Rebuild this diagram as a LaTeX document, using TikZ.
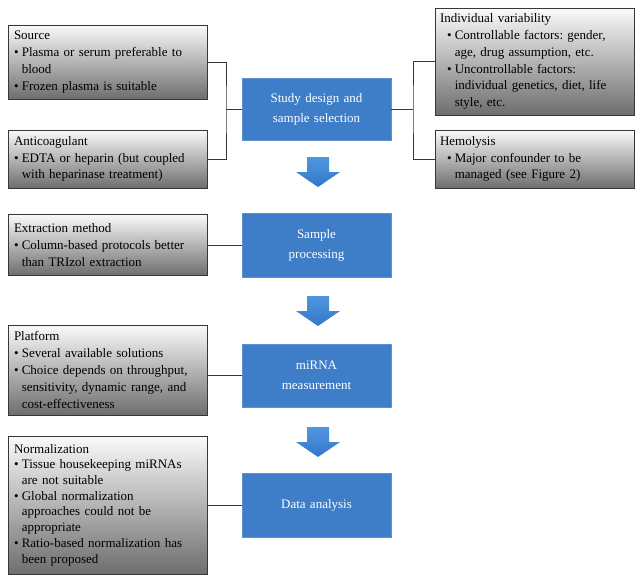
\documentclass[tikz,border=0pt]{standalone}
\usepackage{fontspec}
\setmainfont{Liberation Serif}
\usetikzlibrary{positioning}
\definecolor{boxblue}{RGB}{62,125,200}
\definecolor{boxedge}{RGB}{95,145,210}
\definecolor{arrowhi}{RGB}{80,150,222}
\definecolor{arrowlo}{RGB}{50,120,200}
\definecolor{linegray}{RGB}{55,55,55}
\newcommand{\bul}{\makebox[0.6em][l]{\textbullet}}
\newcommand{\cont}{\hspace*{0.6em}}
\newcommand{\rbul}{\hspace*{7pt}\bul}
\newcommand{\rcont}{\hspace*{7pt}\cont}

\begin{document}
\frenchspacing
\begin{tikzpicture}[x=1pt, y=-1pt,
  gbox/.style={draw=linegray, line width=0.9pt, rectangle, top color=black!2, bottom color=black!57,
    minimum width=199pt, text width=187pt, inner xsep=6pt, align=left,
    font=\fontsize{13}{16.8}\selectfont},
  bbox/.style={draw=boxedge, line width=0.8pt, rectangle, fill=boxblue, text=white,
    minimum width=149pt, text width=140pt, align=center,
    font=\fontsize{13}{20}\selectfont},
  conn/.style={draw=linegray, line width=0.9pt}]
  \useasboundingbox (0,0) rectangle (642,583);

  \node[gbox, minimum height=74pt] (src) at (107.5,62) {Source\\
    \bul Plasma or serum preferable to\\ \cont blood\\
    \bul Frozen plasma is suitable};
  \node[gbox, minimum height=58pt] (anti) at (107.5,159) {Anticoagulant\\
    \bul EDTA or heparin (but coupled\\ \cont with heparinase treatment)};
  \node[gbox, minimum height=61pt] (extr) at (107.5,245) {Extraction method\\
    \bul Column-based protocols better\\ \cont than TRIzol extraction};
  \node[gbox, minimum height=90pt] (plat) at (107.5,370) {Platform\\
    \bul Several available solutions\\
    \bul Choice depends on throughput,\\ \cont sensitivity, dynamic range, and\\ \cont cost-effectiveness};
  \node[gbox, minimum height=138pt, font=\fontsize{13}{15.7}\selectfont] (norm) at (107.5,505) {Normalization\\
    \bul Tissue housekeeping miRNAs\\ \cont are not suitable\\
    \bul Global normalization\\ \cont approaches could not be\\ \cont appropriate\\
    \bul Ratio-based normalization has\\ \cont been proposed};

  \node[gbox, minimum height=107pt, inner xsep=5pt, text width=189pt] (indiv) at (534.5,61.5) {Individual variability\\
    \rbul Controllable factors: gender,\\ \rcont age, drug assumption, etc.\\
    \rbul Uncontrollable factors:\\ \rcont individual genetics, diet, life\\ \rcont style, etc.};
  \node[gbox, minimum height=58pt, inner xsep=5pt, text width=189pt] (hemo) at (534.5,159) {Hemolysis\\
    \rbul Major confounder to be\\ \rcont managed (see Figure 2)};

  \node[bbox, minimum height=62pt] (study) at (316.5,109) {Study design and\\sample selection};
  \node[bbox, minimum height=64pt] (proc) at (316.5,245) {Sample\\processing};
  \node[bbox, minimum height=63pt] (mirna) at (316.5,375.5) {miRNA\\measurement};
  \node[bbox, minimum height=64pt] (data) at (316.5,505) {Data analysis};

  \coordinate (jl) at (226,109);
  \coordinate (jr) at (413,109);
  \draw[conn] (src.east) -| (jl) |- (anti.east);
  \draw[conn] (jl) -- (study.west);
  \draw[conn] (indiv.west) -| (jr) |- (hemo.west);
  \draw[conn] (jr) -- (study.east);
  \draw[conn] (extr.east) -- (proc.west);
  \draw[conn] (mirna.west) -- (mirna.west -| plat.east);
  \draw[conn] (norm.east) -- (data.west);

  \foreach \y in {157,296,427}
    \shade[top color=arrowhi, bottom color=arrowlo]
      (307,\y) -- (329,\y) -- (329,\y+15) -- (340,\y+15) -- (318,\y+30)
      -- (296,\y+15) -- (307,\y+15) -- cycle;
\end{tikzpicture}
\end{document}
